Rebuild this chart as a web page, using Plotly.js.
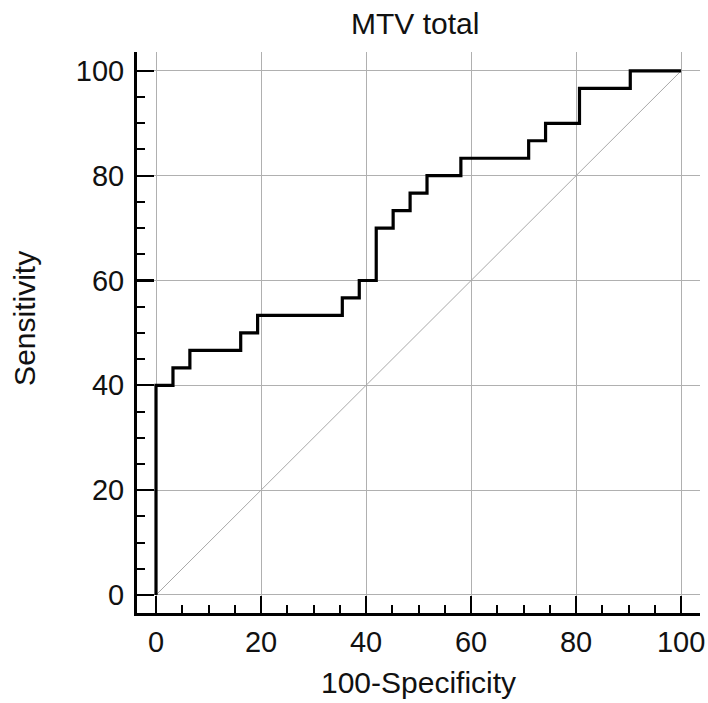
<!DOCTYPE html>
<html>
<head>
<meta charset="utf-8">
<script src="https://cdn.plot.ly/plotly-3.0.1.min.js"></script>
<style>html,body{margin:0;padding:0;background:#fff;}#chart{width:708px;height:703px;}</style>
</head>
<body>
<div id="chart"></div>
<script>
// ROC curve corner points (100-Specificity, Sensitivity), drawn with 'vh' steps
const specificityComplement = [0, 3.23, 6.45, 16.13, 19.35, 35.48, 38.71, 41.94, 45.16, 48.39, 51.61, 58.06, 70.97, 74.19, 80.65, 90.32, 100];
const sensitivity = [0, 40, 43.33, 46.67, 50, 53.33, 56.67, 60, 70, 73.33, 76.67, 80, 83.33, 86.67, 90, 96.67, 100];
const diagonalX = [0, 100];
const diagonalY = [0, 100];
const tickValues = [0, 20, 40, 60, 80, 100];
const tickLabels = ['0', '20', '40', '60', '80', '100'];

const fontFamily = '"Liberation Sans", Arial, sans-serif';

const traces = [
  {
    x: diagonalX, y: diagonalY, type: 'scatter', mode: 'lines',
    line: {color: '#a8a8a8', width: 1}, hoverinfo: 'skip', showlegend: false
  },
  {
    x: specificityComplement, y: sensitivity, type: 'scatter', mode: 'lines',
    line: {color: '#000', width: 3.2, shape: 'vh'}, showlegend: false
  }
];

const axisCommon = {
  tickmode: 'array', tickvals: tickValues, ticktext: tickLabels,
  showgrid: true, gridcolor: '#b0b0b0', gridwidth: 1,
  zeroline: false, showline: true, linecolor: '#000', linewidth: 3,
  ticks: 'inside', ticklen: 17, tickwidth: 2.2, tickcolor: '#000',
  minor: {dtick: 5, tick0: 0, ticks: 'inside', ticklen: 8, tickwidth: 2, tickcolor: '#000', showgrid: false},
  tickfont: {family: fontFamily, size: 29, color: '#111'},
  fixedrange: true
};

const layout = {
  width: 708, height: 703,
  margin: {l: 137, r: 8, t: 52, b: 90, pad: 0},
  paper_bgcolor: '#fff', plot_bgcolor: '#fff',
  title: {text: 'MTV total', font: {family: fontFamily, size: 30, color: '#111'}, x: 0.5865, xanchor: 'center', y: 0.966, yanchor: 'middle'},
  xaxis: Object.assign({}, axisCommon, {
    range: [-3.62, 103.6],
    ticklabelstandoff: 1,
    title: {text: '100-Specificity', font: {family: fontFamily, size: 30, color: '#111'}, standoff: 16}
  }),
  yaxis: Object.assign({}, axisCommon, {
    range: [-3.44, 103.6],
    ticklabelstandoff: 4
  }),
  annotations: [{
    text: 'Sensitivity', textangle: -90, showarrow: false,
    xref: 'paper', yref: 'paper', x: -0.2, y: 0.525,
    xanchor: 'center', yanchor: 'middle',
    font: {family: fontFamily, size: 30, color: '#111'}
  }],
  showlegend: false
};

Plotly.newPlot('chart', traces, layout, {displayModeBar: false, staticPlot: true});
</script>
</body>
</html>
